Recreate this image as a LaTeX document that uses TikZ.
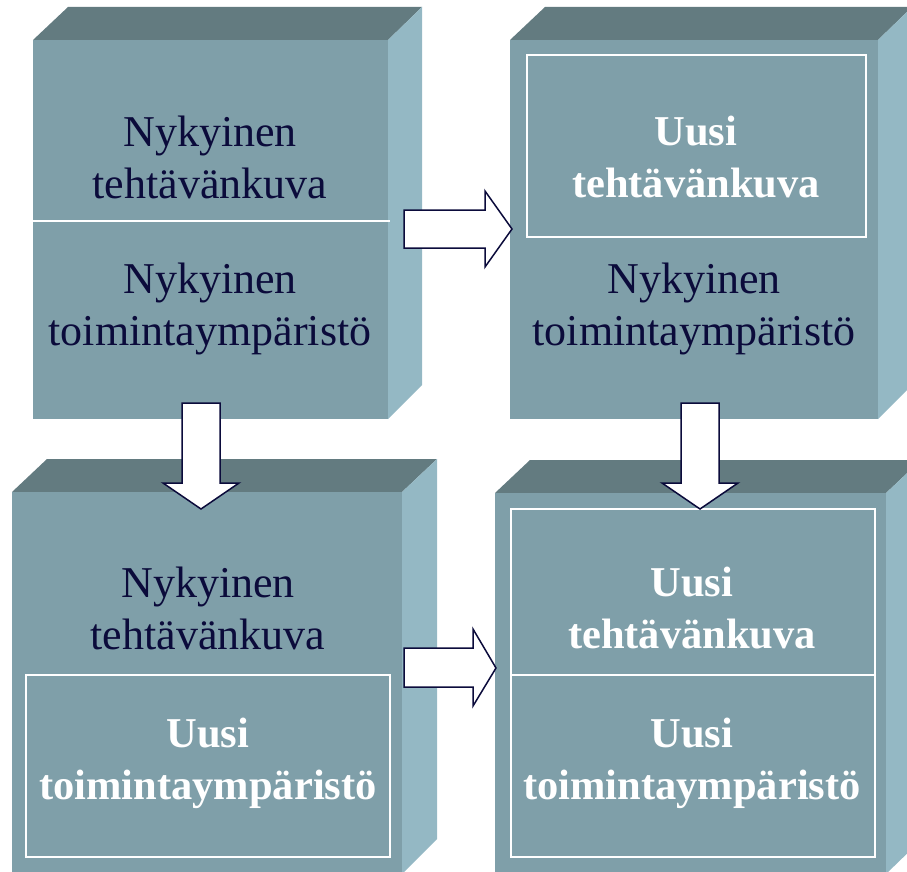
\documentclass[tikz,border=0pt]{standalone}
\usepackage{fontspec}
\setmainfont{Liberation Serif}
\definecolor{front}{HTML}{7F9FA9}
\definecolor{topf}{HTML}{637B80}
\definecolor{side}{HTML}{94B8C4}
\definecolor{navy}{HTML}{0B0B3B}
\tikzset{
  frontface/.style={fill=front},
  topface/.style={fill=topf},
  sideface/.style={fill=side},
  inner/.style={draw=white, line width=1.6pt},
  divider/.style={draw=white, line width=1.4pt},
  oldtxt/.style={text=navy, align=center, font=\fontsize{44}{52}\selectfont},
  newtxt/.style={text=white, align=center, font=\fontsize{42.5}{52}\selectfont\bfseries},
  blockarrow/.style={draw=navy, fill=white, line width=1.5pt, line join=miter}
}
\begin{document}
\begin{tikzpicture}[x=1pt,y=-1pt]
\useasboundingbox (0,0) rectangle (907,872);
% cube 1 top-left
\fill[topface] (33,40) -- (68,7) -- (422,7) -- (388,40) -- cycle;
\fill[sideface] (388,40) -- (422,7) -- (422,385) -- (388,419) -- cycle;
\fill[frontface] (33,40) rectangle (388,419);
\draw[divider] (33,221) -- (390,221);
% cube 2 top-right
\fill[topface] (510,40) -- (545,7) -- (912,7) -- (878,40) -- cycle;
\fill[sideface] (878,40) -- (912,7) -- (912,385) -- (878,419) -- cycle;
\fill[frontface] (510,40) rectangle (878,419);
\draw[inner] (527,55) rectangle (866,237);
% cube 3 bottom-left
\fill[topface] (12,492) -- (47,459) -- (437,459) -- (402,492) -- cycle;
\fill[sideface] (402,492) -- (437,459) -- (437,839) -- (402,874) -- cycle;
\fill[frontface] (12,492) rectangle (402,874);
\draw[inner] (26,675) rectangle (390,857);
% cube 4 bottom-right
\fill[topface] (495,493) -- (530,460) -- (921,460) -- (886,493) -- cycle;
\fill[sideface] (886,493) -- (921,460) -- (921,840) -- (886,874) -- cycle;
\fill[frontface] (495,493) rectangle (886,874);
\draw[inner] (511,509) rectangle (875,857);
\draw[divider] (511,675) -- (875,675);
% texts
\node[oldtxt] (t1a) at (210,157) {Nykyinen\\tehtävänkuva};
\node[oldtxt] (t1b) at (210,309) {Nykyinen\\toimintaympäristö};
\node[newtxt] (t2a) at (696,157) {Uusi\\tehtävänkuva};
\node[oldtxt] (t2b) at (694,309) {Nykyinen\\toimintaympäristö};
\node[oldtxt] (t3a) at (208,608) {Nykyinen\\tehtävänkuva};
\node[newtxt] (t3b) at (208,763) {Uusi\\toimintaympäristö};
\node[newtxt] (t4a) at (692,608) {Uusi\\tehtävänkuva};
\node[newtxt] (t4b) at (692,763) {Uusi\\toimintaympäristö};
% arrows
\draw[blockarrow] (404,210) -- (485,210) -- (485,191) -- (512,229) -- (485,267) -- (485,248) -- (404,248) -- cycle;
\draw[blockarrow] (404,648) -- (473,648) -- (473,629) -- (496,668) -- (473,706) -- (473,687) -- (404,687) -- cycle;
\draw[blockarrow] (182,403) -- (220,403) -- (220,483) -- (239,483) -- (201,509) -- (163,483) -- (182,483) -- cycle;
\draw[blockarrow] (681,403) -- (719,403) -- (719,483) -- (738,483) -- (700,509) -- (662,483) -- (681,483) -- cycle;
\end{tikzpicture}
\end{document}
